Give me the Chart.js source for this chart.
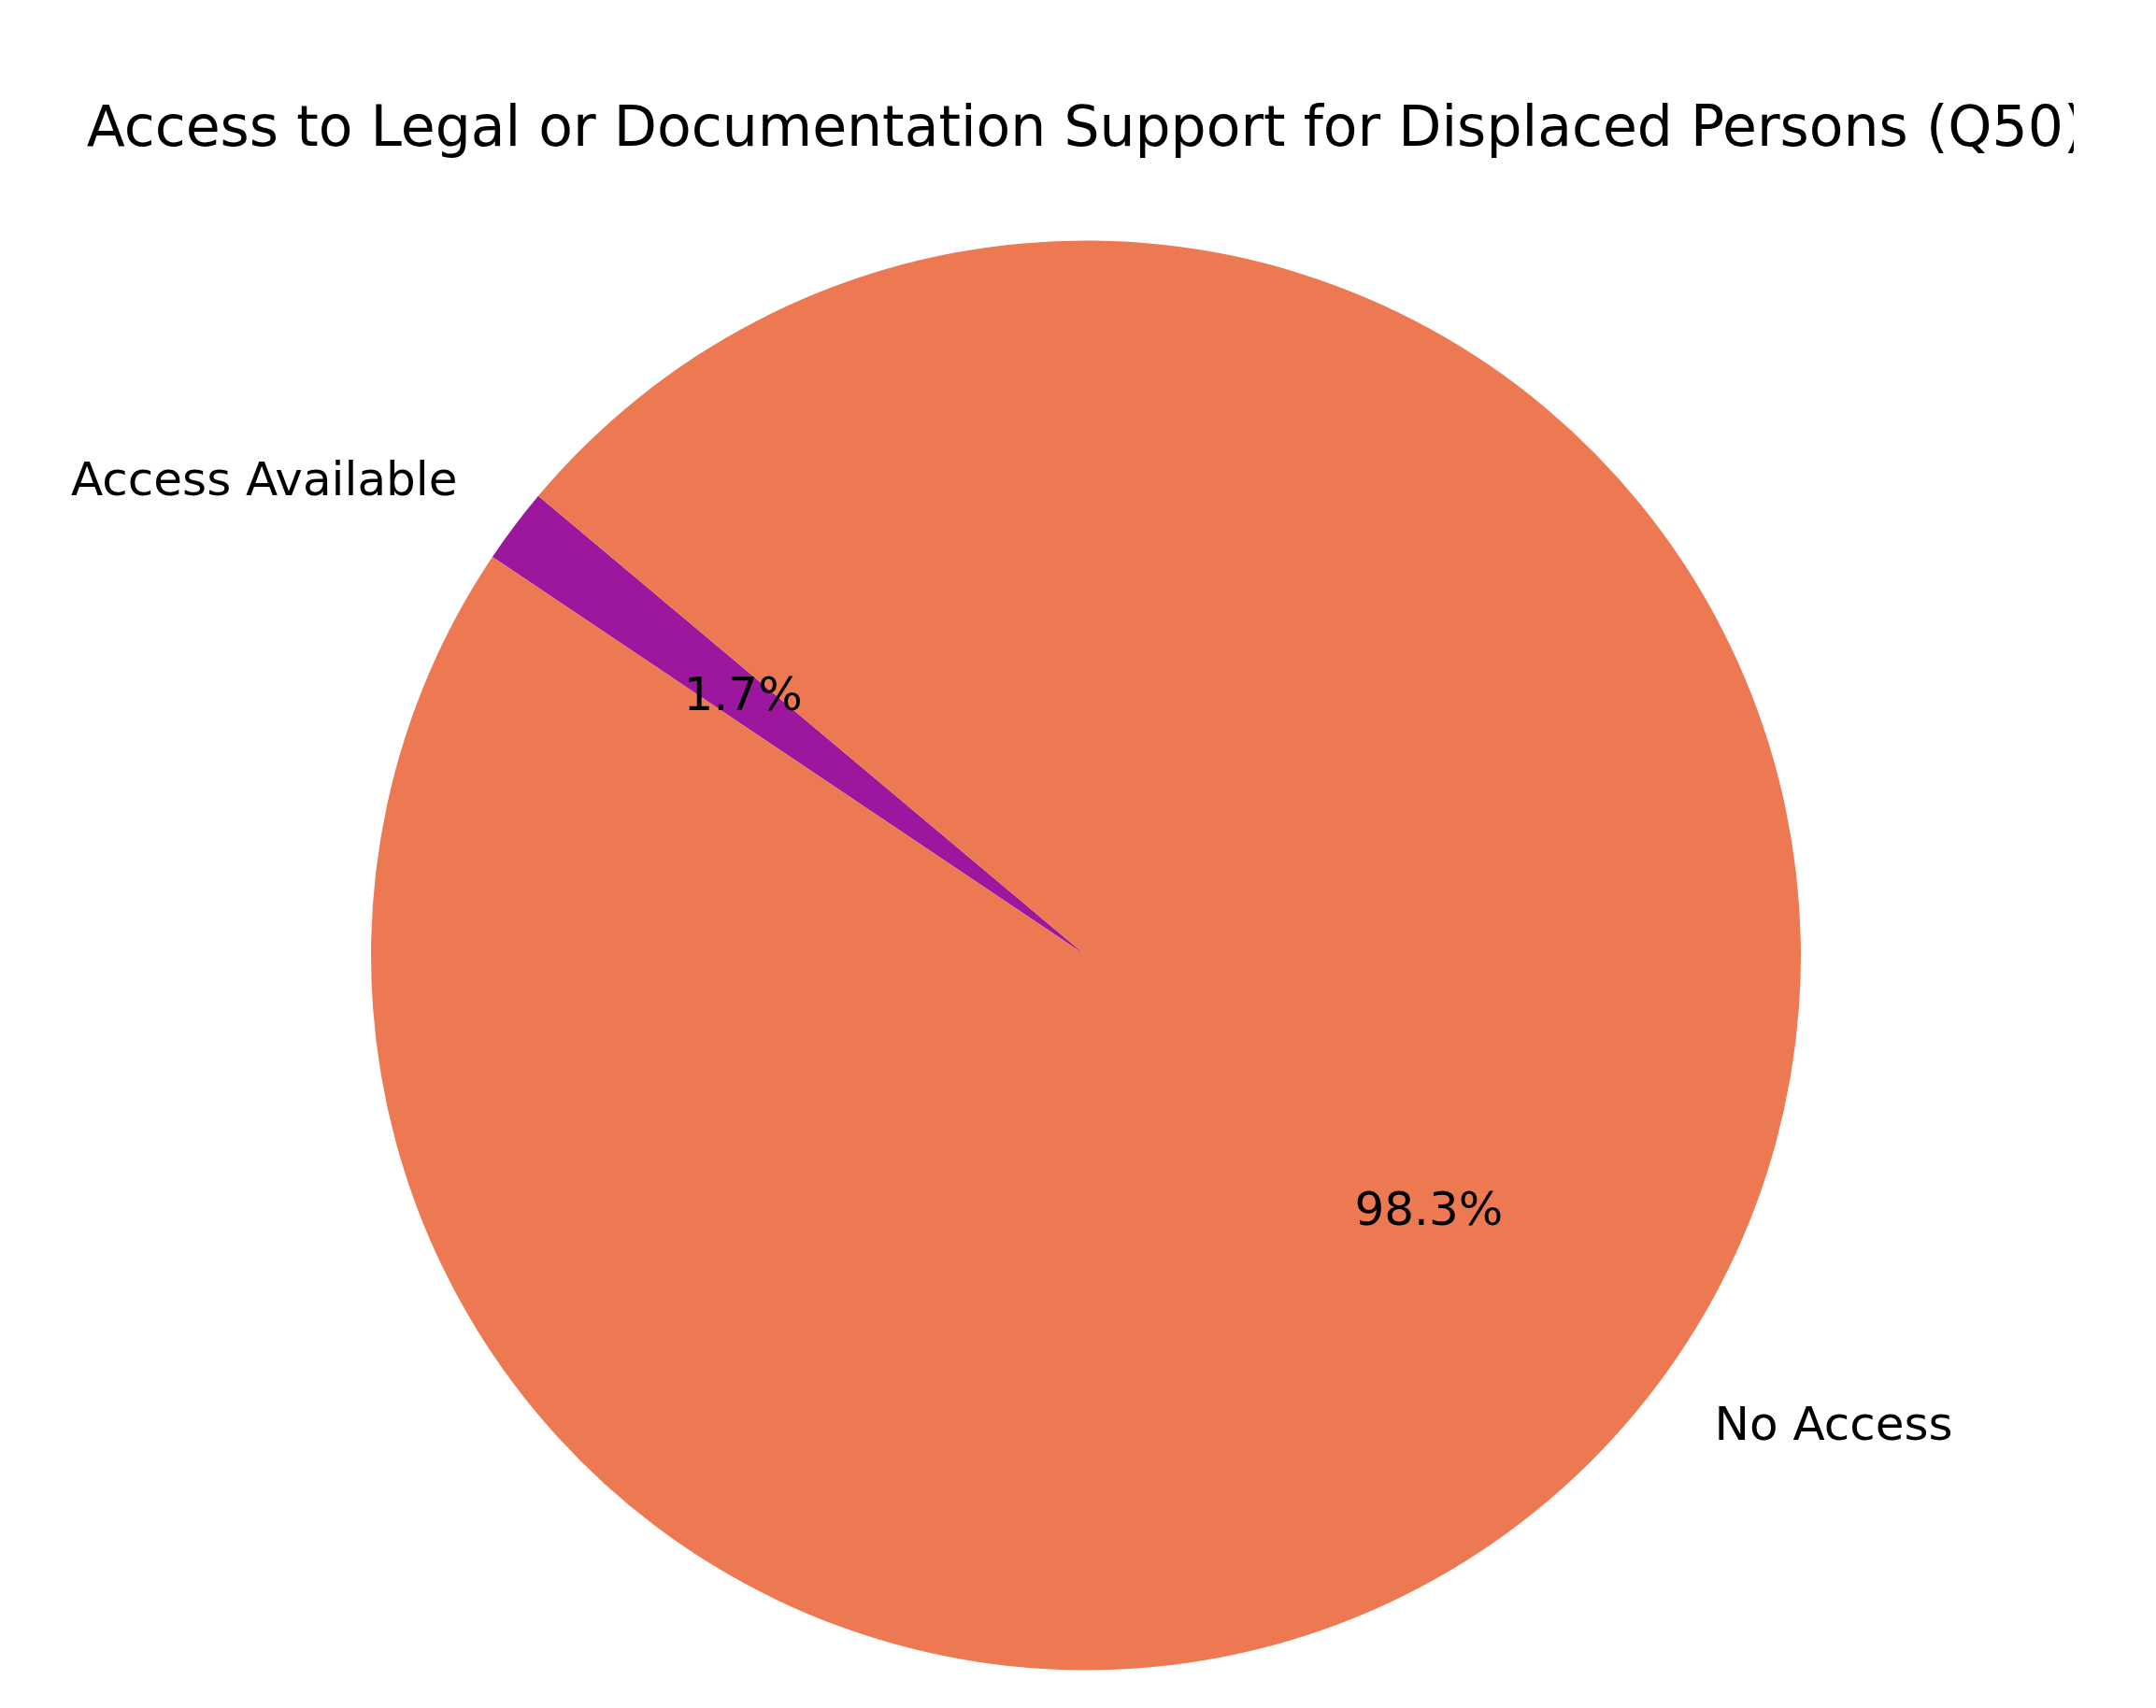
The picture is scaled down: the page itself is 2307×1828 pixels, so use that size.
<!DOCTYPE html>
<html>
<head>
<meta charset="utf-8">
<title>Access to Legal or Documentation Support</title>
<script src="https://cdn.jsdelivr.net/npm/chart.js@4.4.1/dist/chart.umd.min.js"></script>
<style>
  html, body { margin: 0; padding: 0; background: #ffffff; }
  #wrap { width: 2307px; height: 1828px; }
</style>
</head>
<body>
<div id="wrap"><canvas id="myChart" width="2307" height="1828"></canvas></div>
<script>
// Data
const labels = ["Access Available", "No Access"];
const values = [1.7, 98.3];
const colors = ["#9c179e", "#ed7953"];
const title_text = "Access to Legal or Documentation Support for Displaced Persons (Q50)";
const start_angle = 140; // degrees, counterclockwise from 3 o'clock

const font_family = "'DejaVu Sans', sans-serif";
const total = values.reduce((a, b) => a + b, 0);
// chart.js goes clockwise from 12 o'clock, so flip the start
const rotation = 90 - start_angle - (values[0] / total) * 360;

// Title, clipped on the right like the original image
const titlePlugin = {
  id: "titlePlugin",
  afterDraw(chart) {
    const ctx = chart.ctx;
    const area = chart.chartArea;
    ctx.save();
    ctx.beginPath();
    ctx.rect(0, 0, 2219, chart.height);
    ctx.clip();
    ctx.fillStyle = "#000000";
    ctx.font = "60px " + font_family;
    ctx.textAlign = "center";
    ctx.textBaseline = "alphabetic";
    ctx.fillText(title_text, (area.left + area.right) / 2, 156);
    ctx.restore();
  }
};

// Outside labels and percentages
const sliceLabels = {
  id: "sliceLabels",
  afterDatasetsDraw(chart) {
    const ctx = chart.ctx;
    const meta = chart.getDatasetMeta(0);
    ctx.save();
    ctx.fillStyle = "#000000";
    ctx.font = "50px " + font_family;
    ctx.textBaseline = "middle";
    meta.data.forEach((arc, i) => {
      const p = arc.getProps(["x", "y", "startAngle", "endAngle", "outerRadius"], true);
      const mid = (p.startAngle + p.endAngle) / 2;
      const lx = p.x + Math.cos(mid) * p.outerRadius * 1.1;
      const ly = p.y + Math.sin(mid) * p.outerRadius * 1.1;
      ctx.textAlign = lx < p.x ? "right" : "left";
      ctx.fillText(labels[i], lx, ly);

      const px = p.x + Math.cos(mid) * p.outerRadius * 0.6;
      const py = p.y + Math.sin(mid) * p.outerRadius * 0.6;
      ctx.textAlign = "center";
      ctx.fillText(((values[i] / total) * 100).toFixed(1) + "%", px, py);
    });
    ctx.restore();
  }
};

const ctx = document.getElementById("myChart").getContext("2d");
const myChart = new Chart(ctx, {
  type: "pie",
  data: {
    labels: labels,
    datasets: [
      {
        data: values,
        backgroundColor: colors,
        borderWidth: 0
      }
    ]
  },
  options: {
    responsive: false,
    animation: false,
    devicePixelRatio: 1,
    rotation: rotation,
    layout: {
      padding: { top: 257, bottom: 40, left: 397, right: 380 }
    },
    plugins: {
      legend: { display: false },
      tooltip: { enabled: false },
      title: { display: false }
    }
  },
  plugins: [sliceLabels, titlePlugin]
});
</script>
</body>
</html>
